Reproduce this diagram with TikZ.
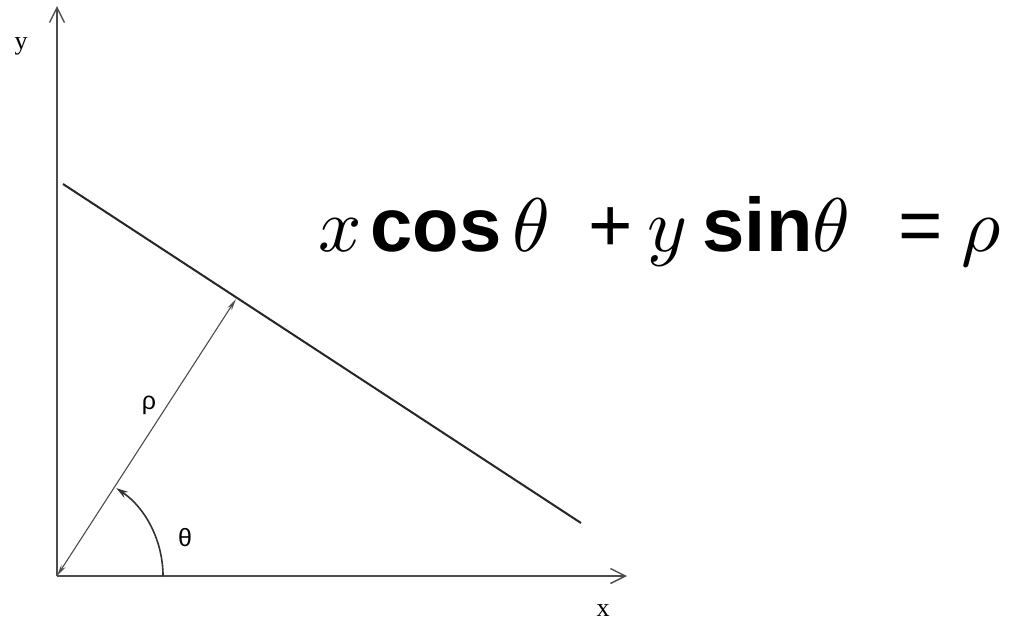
\documentclass[tikz,border=0pt]{standalone}
\usepackage{fontspec}
\usepackage{graphicx}
\setmainfont{Liberation Serif}
\setsansfont{Liberation Sans}
\usetikzlibrary{arrows.meta}
\newcommand\putpiece[2]{\makebox[0pt][l]{\hspace*{#1}#2}}
\newcommand\bigmath[1]{\scalebox{7.6}{\fontsize{10}{10}\selectfont$#1$}}
\tikzset{
  axis/.style={draw=black!70, line width=1.6pt, -{Straight Barb[length=15pt,width=15pt,line width=1.4pt]}},
  mainline/.style={draw=black!85, line width=2pt},
  rhoarrow/.style={draw=black!70, line width=1.1pt, {Stealth[length=12pt,width=5pt]}-{Stealth[length=12pt,width=5pt]}},
  anglearrow/.style={draw=black!80, line width=1.6pt, -{Stealth[length=12pt,width=7pt]}},
  axlabel/.style={font=\fontsize{26}{26}\selectfont, inner sep=0pt},
  greek/.style={font=\sffamily\fontsize{25}{25}\selectfont, inner sep=0pt},
}
\begin{document}
\begin{tikzpicture}[x=1pt,y=-1pt]
\useasboundingbox (0,0) rectangle (1013,624);
\fill[white] (0,0) rectangle (1013,624);
\coordinate (O) at (57,576);
\coordinate (Xend) at (627,576);
\coordinate (Yend) at (57,6);
\coordinate (L1) at (63,184);
\coordinate (L2) at (581,523);
\coordinate (F) at (236,299);
\coordinate (A0) at (163,576);
\draw[axis] (O) -- (Xend);
\draw[axis] (O) -- (Yend);
\draw[mainline] (L1) -- (L2);
\draw[rhoarrow] (O) -- (F);
\draw[anglearrow] (A0) arc[start angle=0, end angle=-56, radius=106];
\node[axlabel] (ylab) at (21,46) {y};
\node[axlabel] (xlab) at (603,611) {x};
\node[greek] (rholab) at (149,405) {ρ};
\node[greek] (thetalab) at (185,538) {θ};
\node[anchor=base west, inner sep=0pt] (eq) at (320,251) {\fontsize{76}{76}\selectfont
  \putpiece{-2pt}{\bigmath{x}}%
  \putpiece{50pt}{\sffamily\bfseries cos}%
  \putpiece{192pt}{\bigmath{\theta}}%
  \putpiece{268pt}{\sffamily +}%
  \putpiece{327pt}{\bigmath{y}}%
  \putpiece{382pt}{\sffamily\bfseries sin}%
  \putpiece{492pt}{\bigmath{\theta}}%
  \putpiece{578pt}{\sffamily =}%
  \putpiece{641pt}{\bigmath{\rho}}};
\end{tikzpicture}
\end{document}
